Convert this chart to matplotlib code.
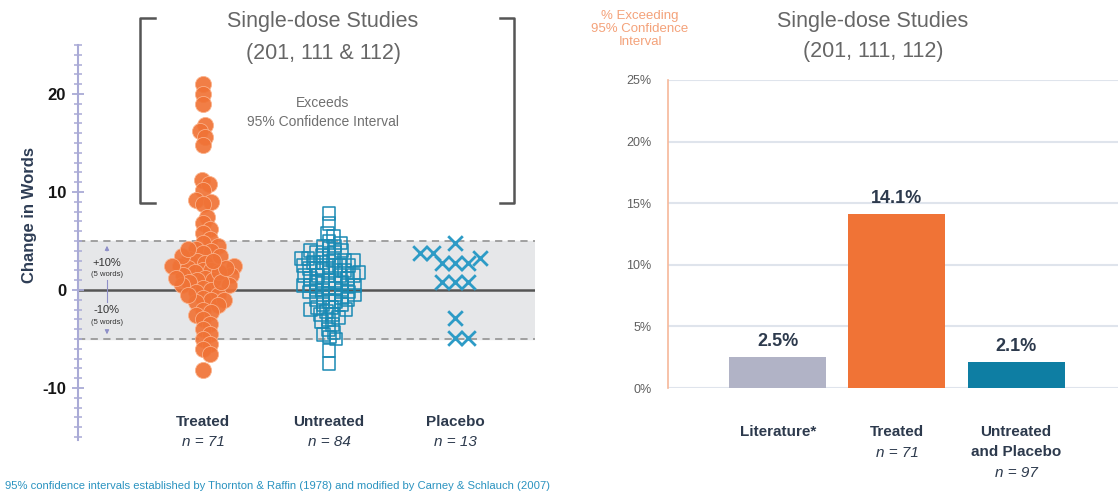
import numpy as np
import matplotlib
matplotlib.use('Agg')
import matplotlib.pyplot as plt
from matplotlib.lines import Line2D

plt.rcParams['font.family'] = ['Liberation Sans', 'DejaVu Sans']
plt.rcParams['axes.unicode_minus'] = False

# ---- data ----
groups = ['Treated', 'Untreated', 'Placebo']
group_n = [71, 84, 13]

treated = [21, 20, 19, 16.8, 16.2, 15.6, 14.8, 11.2, 10.8, 10.2, 9.2, 9.0, 8.8,
           7.5, 6.8, 6.2, 5.8, 5.2, 4.8, 4.5, 4.2, 4.0, 3.8, 3.5, 3.2, 3.0,
           2.8, 2.5, 2.5, 2.2, 2.0, 2.0, 1.8, 1.5, 1.5, 1.2, 1.0, 1.0,
           0.8, 0.5, 0.5, 0.2, 0.0, -0.2, -0.5, -0.8, -1.0, -1.0,
           -1.2, -1.5, -2.0, -2.2, -2.5, -3.0, -3.5, -4.0, -4.5, -5.0,
           -5.5, -6.0, -6.5, -8.2,
           3.5, 2.5, 1.8, 0.8, 2.2, 3.0, 1.2, 4.2, -0.5]

untreated = [7.8, 6.8, 5.8, 5.5, 5.0, 4.8, 4.5, 4.5, 4.2, 4.0, 4.0, 3.8, 3.5, 3.5, 3.2,
             3.0, 3.0, 3.0, 2.8, 2.5, 2.5, 2.5, 2.2, 2.0, 2.0, 2.0, 1.8, 1.5, 1.5, 1.5,
             1.2, 1.0, 1.0, 1.0, 0.8, 0.5, 0.5, 0.5, 0.2, 0.0, 0.0, 0.0, -0.2, -0.5,
             -0.5, -0.5, -0.8, -1.0, -1.0, -1.2, -1.5, -1.5, -1.8, -2.0, -2.0, -2.2,
             -2.5, -2.5, -2.8, -3.0, -3.2, -3.5, -4.0, -4.3, -4.5, -4.8, -5.0, -6.2, -7.5,
             3.8, 3.2, 2.8, 2.2, 1.8, 1.2, 0.8, 0.2, -0.2, -0.8, -1.2, 1.5, 2.5, 0.5, -1.8]

placebo = [4.8, 2.8, 3.3, 2.8, 3.8, 3.8, 2.8, 0.8, 0.8, 0.8, -2.9, -4.9, -4.9]

bar_labels = ['Literature*', 'Treated', 'Untreated\nand Placebo']
bar_n = [None, 71, 97]
bar_pct = [2.5, 14.1, 2.1]
pct_ticks = [0, 5, 10, 15, 20, 25]

orange = '#f07336'
teal = '#1a8ab4'
navy = '#2d3a4d'

W, H = 1118, 494
fig = plt.figure(figsize=(W / 100, H / 100), dpi=100)

# ---- left panel: swarm ----
ax = fig.add_axes([78 / W, 54 / H, 457 / W, 395 / H])
ax.set_xlim(-0.992, 2.635)
ax.set_ylim(-15.3, 25)


def swarm(vals, center, d_px):
    """simple beeswarm, offsets worked out in pixel space"""
    vals = np.asarray(vals, float)
    pts = ax.transData.transform(np.column_stack([np.full(len(vals), center), vals]))
    ys = pts[:, 1]
    xs = np.zeros(len(vals))
    placed = []
    for i in np.argsort(np.abs(vals - np.median(vals)), kind='stable'):
        cands = [0.0]
        for j in placed:
            dy = ys[i] - ys[j]
            if abs(dy) < d_px:
                dx = np.sqrt(d_px ** 2 - dy ** 2)
                cands += [xs[j] + dx, xs[j] - dx]
        cands.sort(key=abs)
        for c in cands:
            if all((c - xs[j]) ** 2 + (ys[i] - ys[j]) ** 2 >= d_px ** 2 - 1e-6 for j in placed):
                xs[i] = c
                break
        placed.append(i)
    x0 = pts[0, 0]
    return ax.transData.inverted().transform(np.column_stack([x0 + xs, ys]))[:, 0]


ax.axhspan(-5, 5, color='#e6e7e9', zorder=0)
ax.axhline(5, color='#9a9a9a', lw=1.3, ls=(0, (4, 3)), zorder=1)
ax.axhline(-5, color='#9a9a9a', lw=1.3, ls=(0, (4, 3)), zorder=1)
ax.axhline(0, color='#555555', lw=1.8, zorder=1)

ax.scatter(swarm(treated, 0, 8.2), treated, s=135, color=orange,
           edgecolor='#fbb48e', linewidth=0.6, alpha=0.92, zorder=3)
ax.scatter(swarm(untreated, 1, 6.6), untreated, s=85, marker='s', facecolor='none',
           edgecolor=teal, linewidth=1.1, zorder=3)
ax.scatter(swarm(placebo, 2, 13), placebo, s=110, marker='x', color='#2d9bc6',
           linewidth=2, zorder=3)

for sp in ['top', 'right', 'bottom']:
    ax.spines[sp].set_visible(False)
ax.spines['left'].set_color('#a9aad6')
ax.spines['left'].set_linewidth(1.5)
ax.set_xticks([])
ax.set_yticks([-10, 0, 10, 20])
ax.set_yticks(np.arange(-15, 26, 1), minor=True)
ax.tick_params(axis='y', which='major', direction='inout', length=9, width=1.3,
               color='#a9aad6', labelsize=12, pad=4)
ax.tick_params(axis='y', which='minor', direction='inout', length=6, width=1.1,
               color='#a9aad6')
for t in ax.get_yticklabels():
    t.set_fontweight('bold')
    t.set_color('#151515')

fig.text(30 / W, 1 - 215 / H, 'Change in Words', rotation=90, ha='center', va='center',
         fontsize=12, fontweight='bold', color='#2e3d55')

for i, (g, n) in enumerate(zip(groups, group_n)):
    ax.annotate(g, (i, 0), xytext=(0, -132), textcoords='offset pixels', ha='center',
                va='center', fontsize=11, fontweight='bold', color=navy, annotation_clip=False)
    ax.annotate(f'n = {n}', (i, 0), xytext=(0, -152), textcoords='offset pixels',
                ha='center', va='center', fontsize=11, style='italic', color=navy,
                annotation_clip=False)

# +/-10% markers inside the band
ax_x = -0.762
ax.annotate('', (ax_x, 4.8), xytext=(ax_x, 3.7),
            arrowprops=dict(arrowstyle='-|>', color='#8e8fc8', lw=0.8, mutation_scale=6))
ax.annotate('', (ax_x, -4.8), xytext=(ax_x, -3.9),
            arrowprops=dict(arrowstyle='-|>', color='#8e8fc8', lw=0.8, mutation_scale=6))
ax.plot([ax_x, ax_x], [1.0, -1.2], color='#8e8fc8', lw=0.8)
ax.text(ax_x, 2.8, '+10%', ha='center', va='center', fontsize=8, color='#333333')
ax.text(ax_x, 1.6, '(5 words)', ha='center', va='center', fontsize=5.5, color='#333333')
ax.text(ax_x, -2.0, '-10%', ha='center', va='center', fontsize=8, color='#333333')
ax.text(ax_x, -3.3, '(5 words)', ha='center', va='center', fontsize=5.5, color='#333333')

# bracket + titles
bk = '#555555'
for xs, ys in [([155, 140, 140, 155], [18, 18, 203, 203]),
               ([500, 514, 514, 500], [18, 18, 203, 203])]:
    fig.add_artist(Line2D([x / W for x in xs], [1 - y / H for y in ys], color=bk, lw=1.8))

fig.text(323 / W, 1 - 22 / H, 'Single-dose Studies', ha='center', va='center',
         fontsize=15.5, color='#666666')
fig.text(323 / W, 1 - 54 / H, '(201, 111 & 112)', ha='center', va='center',
         fontsize=15.5, color='#666666')
fig.text(323 / W, 1 - 103 / H, 'Exceeds', ha='center', va='center', fontsize=10,
         color='#707070')
fig.text(323 / W, 1 - 122 / H, '95% Confidence Interval', ha='center', va='center',
         fontsize=10, color='#707070')

fig.text(5 / W, 1 - 486 / H,
         '95% confidence intervals established by Thornton & Raffin (1978) and modified by Carney & Schlauch (2007)',
         ha='left', va='center', fontsize=8.1, color='#2a93c0')

# ---- right panel: bars ----
ax2 = fig.add_axes([668 / W, 106 / H, 450 / W, 308 / H])
ax2.set_xlim(-0.924, 2.857)
ax2.set_ylim(0, 25)
ax2.bar(range(3), bar_pct, width=0.815, color=['#b1b3c6', orange, '#0e7ea3'], zorder=3)
ax2.set_yticks(pct_ticks)
ax2.set_yticklabels([f'{t}%' for t in pct_ticks])
ax2.yaxis.grid(True, color='#dfe4ec', lw=1.5, zorder=0)
ax2.set_axisbelow(True)
ax2.set_xticks([])
for sp in ['top', 'right', 'bottom']:
    ax2.spines[sp].set_visible(False)
ax2.spines['left'].set_color('#f6b89a')
ax2.spines['left'].set_linewidth(1.2)
ax2.tick_params(axis='y', length=0, labelsize=9, labelcolor='#606060', pad=12)

for i, v in enumerate(bar_pct):
    ax2.annotate(f'{v}%', (i, v), xytext=(0, 5), textcoords='offset points', ha='center',
                 va='bottom', fontsize=13, fontweight='bold', color=navy)

for i, (lab, n) in enumerate(zip(bar_labels, bar_n)):
    lines = lab.split('\n')
    for k, line in enumerate(lines):
        ax2.annotate(line, (i, 0), xytext=(0, -44 - 20 * k), textcoords='offset pixels',
                     ha='center', va='center', fontsize=11, fontweight='bold', color=navy,
                     annotation_clip=False)
    if n is not None:
        ax2.annotate(f'n = {n}', (i, 0), xytext=(0, -44 - 20 * len(lines) - 1),
                     textcoords='offset pixels', ha='center', va='center', fontsize=11,
                     style='italic', color=navy, annotation_clip=False)

fig.text(640 / W, 1 - 10 / H, '% Exceeding\n95% Confidence\nInterval', ha='center',
         va='top', fontsize=9.5, color='#f4a27a', linespacing=1.1)
fig.text(873 / W, 1 - 22 / H, 'Single-dose Studies', ha='center', va='center',
         fontsize=15.5, color='#666666')
fig.text(873 / W, 1 - 52 / H, '(201, 111, 112)', ha='center', va='center',
         fontsize=15.5, color='#666666')

fig.savefig('out.png', dpi=100)
